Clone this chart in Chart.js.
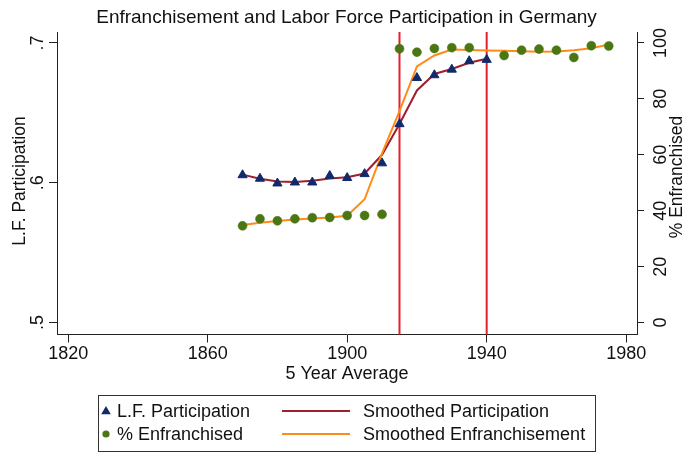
<!DOCTYPE html>
<html>
<head>
<meta charset="utf-8">
<script src="https://cdn.jsdelivr.net/npm/chart.js@4/dist/chart.umd.min.js"></script>
<style>
  html, body { margin: 0; padding: 0; background: #fff; }
  #wrap { width: 685px; height: 454px; }
</style>
</head>
<body>
<div id="wrap"><canvas id="c" width="685" height="454"></canvas></div>
<script>
// ---- data ----
const years = [1870,1875,1880,1885,1890,1895,1900,1905,1910,1915,1920,1925,1930,1935,1940,1945,1950,1955,1960,1965,1970,1975];
const lfParticipation = [0.6055,0.6030,0.5996,0.6003,0.6003,0.6050,0.6035,0.6063,0.6140,0.6420,0.6750,0.6770,0.6810,0.6870,0.6880,null,null,null,null,null,null,null];
const pctEnfranchised = [34.6,37.1,36.4,37.1,37.5,37.6,38.3,38.3,38.7,97.9,96.7,98.0,98.3,98.3,null,95.5,97.4,97.8,97.4,94.8,99.0,98.9];
const smoothedParticipation = [0.6058,0.6028,0.6009,0.6005,0.6014,0.6030,0.6040,0.6066,0.6200,0.6420,0.6660,0.6778,0.6813,0.6858,0.6887,null,null,null,null,null,null,null];
const smoothedEnfranchisement = [34.9,35.7,36.3,36.9,37.2,37.6,38.2,44.1,60.5,75.6,91.6,95.5,97.6,97.5,97.3,97.2,97.0,96.8,96.9,97.4,98.1,99.4];
const xTicks = [1820,1860,1900,1940,1980];
const leftTicks = [0.5,0.6,0.7];
const leftTickLabels = ['.5','.6','.7'];
const rightTicks = [0,20,40,60,80,100];
const rightTickLabels = ['0','20','40','60','80','100'];
const refYears = [1915,1940];
const chartTitle = 'Enfranchisement and Labor Force Participation in Germany';
const xTitle = '5 Year Average';
const leftTitle = 'L.F. Participation';
const rightTitle = '% Enfranchised';
const seriesNames = ['L.F. Participation','% Enfranchised','Smoothed Participation','Smoothed Enfranchisement'];

const FONT = '"Liberation Sans", Arial, sans-serif';
const NAVY = '#112a6b', GREEN = '#4a7613', MAROON = '#9e1f2e', ORANGE = '#ff8b17', REFRED = '#e3202c', TXT = '#111', AXIS = '#222';

const pts = arr => years.map((x, i) => ({ x: x, y: arr[i] }));

const sideLabels = {
  id: 'sideLabels',
  beforeDatasetsDraw(chart) {
    const { ctx, chartArea, scales } = chart;
    ctx.save();
    ctx.strokeStyle = REFRED;
    ctx.lineWidth = 2;
    refYears.forEach(yr => {
      const x = scales.x.getPixelForValue(yr);
      ctx.beginPath();
      ctx.moveTo(x, chartArea.top);
      ctx.lineTo(x, chartArea.bottom);
      ctx.stroke();
    });
    ctx.restore();
  },
  afterDraw(chart) {
    const { ctx, scales } = chart;
    ctx.save();
    ctx.fillStyle = TXT;
    ctx.textAlign = 'center';
    ctx.textBaseline = 'alphabetic';
    ctx.font = '18px ' + FONT;
    leftTicks.forEach((v, i) => {
      const y = scales.yL.getPixelForValue(v);
      ctx.save(); ctx.translate(43, y); ctx.rotate(-Math.PI / 2);
      ctx.fillText(leftTickLabels[i], 0, 0); ctx.restore();
    });
    rightTicks.forEach((v, i) => {
      const y = scales.yR.getPixelForValue(v);
      ctx.save(); ctx.translate(666, y); ctx.rotate(-Math.PI / 2);
      ctx.fillText(rightTickLabels[i], 0, 0); ctx.restore();
    });
    ctx.font = '17.5px ' + FONT;
    ctx.save(); ctx.translate(25, 181); ctx.rotate(-Math.PI / 2); ctx.fillText(leftTitle, 0, 0); ctx.restore();
    ctx.save(); ctx.translate(682, 177); ctx.rotate(-Math.PI / 2); ctx.fillText(rightTitle, 0, 0); ctx.restore();

    // legend
    ctx.strokeStyle = '#333';
    ctx.lineWidth = 1;
    ctx.strokeRect(98.5, 395.5, 497, 56);
    ctx.font = '18px ' + FONT;
    ctx.textAlign = 'left';
    ctx.textBaseline = 'middle';
    const r1 = 411, r2 = 434;
    ctx.fillStyle = NAVY;
    ctx.beginPath();
    ctx.moveTo(106, r1 - 5); ctx.lineTo(110.8, r1 + 3.3); ctx.lineTo(101.2, r1 + 3.3); ctx.closePath(); ctx.fill();
    ctx.fillStyle = GREEN;
    ctx.beginPath(); ctx.arc(106, r2, 3.6, 0, Math.PI * 2); ctx.fill();
    ctx.lineWidth = 2;
    ctx.strokeStyle = MAROON;
    ctx.beginPath(); ctx.moveTo(282, r1); ctx.lineTo(350, r1); ctx.stroke();
    ctx.strokeStyle = ORANGE;
    ctx.beginPath(); ctx.moveTo(282, r2); ctx.lineTo(350, r2); ctx.stroke();
    ctx.fillStyle = TXT;
    ctx.fillText(seriesNames[0], 117, r1 + 1);
    ctx.fillText(seriesNames[1], 117, r2 + 1);
    ctx.fillText(seriesNames[2], 363, r1 + 1);
    ctx.fillText(seriesNames[3], 363, r2 + 1);
    ctx.restore();
  }
};

new Chart(document.getElementById('c'), {
  type: 'scatter',
  data: {
    datasets: [
      { label: seriesNames[0], data: pts(lfParticipation), yAxisID: 'yL', pointStyle: 'triangle', pointRadius: 5.3, backgroundColor: NAVY, borderColor: NAVY, borderWidth: 1, showLine: false },
      { label: seriesNames[1], data: pts(pctEnfranchised), yAxisID: 'yR', pointStyle: 'circle', pointRadius: 4.5, backgroundColor: GREEN, borderColor: GREEN, borderWidth: 0.5, showLine: false },
      { label: seriesNames[3], data: pts(smoothedEnfranchisement), yAxisID: 'yR', showLine: true, pointRadius: 0, borderColor: ORANGE, borderWidth: 2, tension: 0, fill: false },
      { label: seriesNames[2], data: pts(smoothedParticipation), yAxisID: 'yL', showLine: true, pointRadius: 0, borderColor: MAROON, borderWidth: 2, tension: 0, fill: false }
    ]
  },
  options: {
    responsive: false,
    animation: false,
    devicePixelRatio: 1,
    layout: { padding: { left: 49, right: 41, top: 0, bottom: 70.5 } },
    plugins: {
      legend: { display: false },
      tooltip: { enabled: false },
      title: {
        display: true, text: chartTitle, color: TXT,
        font: { family: FONT, size: 19, weight: 'normal', lineHeight: 1 },
        padding: { top: 8, bottom: 5 }
      }
    },
    scales: {
      x: {
        type: 'linear', position: 'bottom', min: 1816.8, max: 1983.1,
        afterBuildTicks: s => { s.ticks = xTicks.map(v => ({ value: v })); },
        ticks: { color: TXT, font: { family: FONT, size: 18, lineHeight: 1 }, padding: 2.5, maxRotation: 0, autoSkip: false, callback: v => String(v) },
        grid: { drawOnChartArea: false, drawTicks: true, tickLength: 8, color: AXIS, lineWidth: 1 },
        border: { display: true, color: AXIS, width: 1 },
        title: { display: true, text: xTitle, color: TXT, font: { family: FONT, size: 18, lineHeight: 1 }, padding: { top: 0, bottom: 0 } }
      },
      yL: {
        type: 'linear', position: 'left', min: 0.4915, max: 0.7078,
        afterBuildTicks: s => { s.ticks = leftTicks.map(v => ({ value: v })); },
        ticks: { display: false },
        grid: { drawOnChartArea: false, drawTicks: true, tickLength: 8, color: AXIS, lineWidth: 1 },
        border: { display: true, color: AXIS, width: 1 }
      },
      yR: {
        type: 'linear', position: 'right', min: -4.25, max: 103.9,
        afterBuildTicks: s => { s.ticks = rightTicks.map(v => ({ value: v })); },
        ticks: { display: false },
        grid: { drawOnChartArea: false, drawTicks: true, tickLength: 7, color: AXIS, lineWidth: 1 },
        border: { display: true, color: AXIS, width: 1 }
      }
    }
  },
  plugins: [sideLabels]
});
</script>
</body>
</html>
